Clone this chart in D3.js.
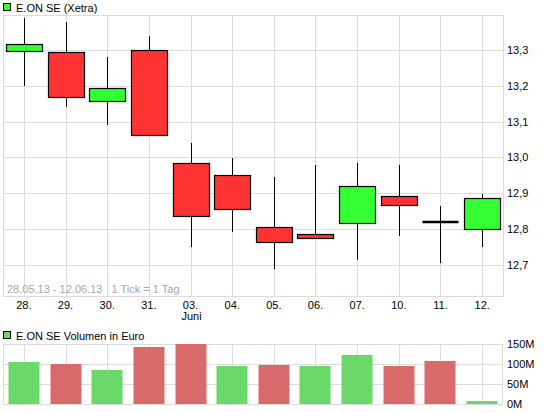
<!DOCTYPE html>
<html>
<head>
<meta charset="utf-8">
<script src="https://cdn.jsdelivr.net/npm/d3@7"></script>
<style>
  body { margin: 0; background: #fff; }
  svg { display: block; font-family: "Liberation Sans", Arial, sans-serif; font-size: 11px; }
  .grid line, .frame { stroke: #dcdcdc; fill: none; shape-rendering: crispEdges; }
</style>
</head>
<body>
<div id="chart"></div>
<script>
var days = ["28.", "29.", "30.", "31.", "03.", "04.", "05.", "06.", "07.", "10.", "11.", "12."];
var openP  = [13.299, 13.294, 13.157, 13.301, 12.984, 12.952, 12.806, 12.786, 12.817, 12.893, 12.820, 12.800];
var closeP = [13.319, 13.168, 13.194, 13.064, 12.836, 12.856, 12.764, 12.775, 12.921, 12.868, 12.820, 12.887];
var highP  = [13.390, 13.380, 13.281, 13.340, 13.040, 12.998, 12.944, 12.979, 12.984, 12.979, 12.863, 12.897];
var lowP   = [13.201, 13.142, 13.091, 13.064, 12.749, 12.791, 12.687, 12.775, 12.712, 12.779, 12.704, 12.749];
var volume = [105, 100, 85, 142.5, 150, 95, 97.5, 95, 122.5, 95, 107.5, 7.5]; // Mio. Euro
var priceTicks = [12.7, 12.8, 12.9, 13.0, 13.1, 13.2, 13.3];
var volTicks = [0, 50, 100, 150];

var W = 545, H = 413;
var svg = d3.select("#chart").append("svg").attr("width", W).attr("height", H);

var candles = days.map(function(d, i) {
  return {day: d, open: openP[i], close: closeP[i], high: highP[i], low: lowP[i], vol: volume[i],
          up: i == 0 ? true : closeP[i] >= closeP[i - 1]};
});

var x = d3.scaleBand().domain(days).range([3, 503]);
var y = d3.scaleLinear().domain([12.612, 13.399]).range([296, 15]);
var yv = d3.scaleLinear().domain([0, 150]).range([404, 344]);
var cx = function(d) { return Math.round(x(d) + x.bandwidth() / 2) + 0.5; };

// ---- price panel
var grid = svg.append("g").attr("class", "grid");
grid.selectAll(".h").data(priceTicks).enter().append("line")
    .attr("x1", 3).attr("x2", 503)
    .attr("y1", function(d) { return Math.round(y(d)) + 0.5; })
    .attr("y2", function(d) { return Math.round(y(d)) + 0.5; });
grid.selectAll(".v").data(days).enter().append("line")
    .attr("x1", cx).attr("x2", cx).attr("y1", 15).attr("y2", 296);
svg.append("rect").attr("class", "frame").attr("x", 3.5).attr("y", 15.5).attr("width", 500).attr("height", 281);

svg.append("text").attr("x", 7).attr("y", 293).attr("fill", "#a8a8a8")
    .attr("xml:space", "preserve")
    .text("28.05.13 - 12.06.13   1 Tick = 1 Tag");

svg.append("g")
    .attr("transform", "translate(503,0)")
    .call(d3.axisRight(y).tickValues(priceTicks).tickSize(0).tickPadding(4)
      .tickFormat(function(d) { return d3.format(".1f")(d).replace(".", ","); }))
    .call(function(g) { g.select(".domain").remove(); })
    .selectAll("text").attr("font-family", "Liberation Sans, Arial").attr("font-size", 11).attr("fill", "#000");

var xa = svg.append("g")
    .attr("transform", "translate(0,296)")
    .call(d3.axisBottom(x).tickSize(0).tickPadding(5))
    .call(function(g) { g.select(".domain").remove(); });
xa.selectAll("text").attr("font-family", "Liberation Sans, Arial").attr("font-size", 11).attr("fill", "#000");
xa.append("text").attr("x", cx("03.")).attr("y", 24)
    .attr("text-anchor", "middle").attr("fill", "#000").attr("font-size", 11).text("Juni");

var cw = 36;
var cg = svg.append("g").selectAll("g").data(candles).enter().append("g");
cg.append("line")
    .attr("x1", function(d) { return cx(d.day); }).attr("x2", function(d) { return cx(d.day); })
    .attr("y1", function(d) { return Math.round(y(d.high)); })
    .attr("y2", function(d) { return Math.round(y(d.low)); })
    .attr("stroke", "#000").attr("shape-rendering", "crispEdges");
cg.filter(function(d) { return d.open != d.close; }).append("rect")
    .attr("x", function(d) { return cx(d.day) - cw / 2; })
    .attr("width", cw)
    .attr("y", function(d) { return Math.round(y(Math.max(d.open, d.close))) + 0.5; })
    .attr("height", function(d) { return Math.max(2, Math.round(Math.abs(y(d.open) - y(d.close)))); })
    .attr("fill", function(d) { return d.close > d.open ? "#33ff33" : "#ff3333"; })
    .attr("stroke", "#000").attr("stroke-width", 1.2);
cg.filter(function(d) { return d.open == d.close; }).append("line")
    .attr("x1", function(d) { return cx(d.day) - cw / 2; })
    .attr("x2", function(d) { return cx(d.day) + cw / 2; })
    .attr("y1", function(d) { return Math.round(y(d.open)); })
    .attr("y2", function(d) { return Math.round(y(d.open)); })
    .attr("stroke", "#000").attr("stroke-width", 2.5);

// legend top
svg.append("rect").attr("x", 3.5).attr("y", 3.5).attr("width", 7).attr("height", 7)
    .attr("fill", "#33ff33").attr("stroke", "#000");
svg.append("text").attr("x", 16).attr("y", 12).attr("fill", "#000").text("E.ON SE (Xetra)");

// ---- volume panel
var vgrid = svg.append("g").attr("class", "grid");
vgrid.selectAll(".h").data([50, 100]).enter().append("line")
    .attr("x1", 3).attr("x2", 503)
    .attr("y1", function(d) { return Math.round(yv(d)) + 0.5; })
    .attr("y2", function(d) { return Math.round(yv(d)) + 0.5; });
vgrid.selectAll(".v").data(days).enter().append("line")
    .attr("x1", cx).attr("x2", cx).attr("y1", 344).attr("y2", 404);
svg.append("rect").attr("class", "frame").attr("x", 3.5).attr("y", 344.5).attr("width", 499).attr("height", 60);

svg.append("g").selectAll("rect").data(candles).enter().append("rect")
    .attr("x", function(d) { return cx(d.day) - 16; })
    .attr("width", 31)
    .attr("y", function(d) { return Math.round(yv(d.vol)); })
    .attr("height", function(d) { return 404 - Math.round(yv(d.vol)); })
    .attr("fill", function(d) { return d.up ? "#6ad96a" : "#d96a6a"; });

svg.append("g")
    .attr("transform", "translate(503,0)")
    .call(d3.axisRight(yv).tickValues(volTicks).tickSize(0).tickPadding(4)
      .tickFormat(function(d) { return d + "M"; }))
    .call(function(g) { g.select(".domain").remove(); })
    .selectAll("text").attr("font-family", "Liberation Sans, Arial").attr("font-size", 11).attr("fill", "#000");

svg.append("rect").attr("x", 3.5).attr("y", 331.5).attr("width", 7).attr("height", 7)
    .attr("fill", "#6ad96a").attr("stroke", "#000");
svg.append("text").attr("x", 16).attr("y", 340).attr("fill", "#000").text("E.ON SE Volumen in Euro");
</script>
</body>
</html>
